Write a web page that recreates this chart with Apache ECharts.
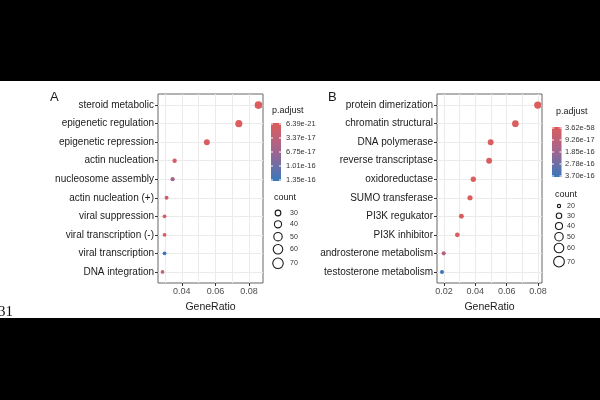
<!DOCTYPE html>
<html><head><meta charset="utf-8">
<script src="https://cdn.jsdelivr.net/npm/echarts@6/dist/echarts.min.js"></script>
<style>
html,body{margin:0;padding:0;background:#000;width:600px;height:400px;overflow:hidden}
#chart{position:absolute;left:0;top:81px;width:600px;height:237px;background:#fff}
</style></head><body><div id="chart"></div>
<script>
// ---------- Panel A data ----------
const catsA = ['steroid metabolic','epigenetic regulation','epigenetic repression','actin nucleation','nucleosome assembly','actin nucleation (+)','viral suppression','viral transcription (-)','viral transcription','DNA integration'];
const ratioA = [0.0856,0.0739,0.0549,0.0357,0.0345,0.0309,0.0297,0.0297,0.0297,0.0285];
const countA = [73,63,47,30,29,26,25,25,25,24];
const padjA  = [6.39e-21,2.1e-19,3.5e-18,1.2e-17,6.2e-17,1.8e-17,9.0e-18,1.0e-17,1.35e-16,2.2e-17];
const padjLabelsA = ['6.39e-21','3.37e-17','6.75e-17','1.01e-16','1.35e-16'];
const countBreaksA = [30,40,50,60,70];
const xTicksA = [0.04,0.06,0.08];
const xGridA  = [0.03,0.04,0.05,0.06,0.07,0.08];
const xRangeA = [0.0258,0.0883];

// ---------- Panel B data ----------
const catsB = ['protein dimerization','chromatin structural','DNA polymerase','reverse transcriptase','oxidoreductase','SUMO transferase','PI3K regukator','PI3K inhibitor','androsterone metabolism','testosterone metabolism'];
const ratioB = [0.0799,0.0656,0.0498,0.0488,0.0387,0.0366,0.0311,0.0285,0.0198,0.0187];
const countB = [72,59,45,44,35,33,28,26,18,17];
const padjB  = [3.62e-58,1e-40,1e-25,1e-24,1e-20,1e-19,5e-18,1e-17,1.2e-16,3.70e-16];
const padjLabelsB = ['3.62e-58','9.26e-17','1.85e-16','2.78e-16','3.70e-16'];
const countBreaksB = [20,30,40,50,60,70];
const xTicksB = [0.02,0.04,0.06,0.08];
const xGridB  = [0.02,0.03,0.04,0.05,0.06,0.07,0.08];
const xRangeB = [0.0155,0.0826];

const FONT = 'Liberation Sans, Arial, sans-serif';
const RED = '#DC5D5D', MID = '#9E6590', BLUE = '#3878BB';
const GRIDC = '#EBEBEB';

const idx = catsA.map((_, i) => i);

function sizeA(c){ return Math.sqrt(Math.max(4, -8.7 + 0.93*c)); }
function sizeB(c){ return Math.sqrt(Math.max(4, 4.5 + 0.678*c)); }
function legSizeA(c){ return Math.sqrt(2.2*c - 21); }
function legSizeB(c){ return Math.sqrt(2.37*c - 29); }

function xAxes(g, range, ticks, gridVals){
  return [
    {type:'value', gridIndex:g, min:range[0], max:range[1], position:'bottom',
     axisLine:{show:false, onZero:false},
     axisTick:{show:true, length:3, customValues:ticks, lineStyle:{color:'#333', width:1}},
     axisLabel:{customValues:ticks, formatter:v=>Number(v).toFixed(2), color:'#4d4d4d', fontSize:9, margin:4, fontFamily:FONT},
     splitLine:{show:false},
     name:'GeneRatio', nameLocation:'middle', nameGap:19,
     nameTextStyle:{fontSize:10.5, color:'#1a1a1a', fontFamily:FONT}},
    {type:'value', gridIndex:g, min:range[0], max:range[1], position:'bottom',
     axisLine:{show:false, onZero:false}, axisTick:{show:false, customValues:gridVals}, axisLabel:{show:false},
     splitLine:{show:true, lineStyle:{color:GRIDC, width:1}}}
  ];
}
function yAxis(g, cats){
  return {type:'value', gridIndex:g, inverse:true, min:-0.6, max:9.6,
    axisLine:{show:false, onZero:false},
    axisTick:{show:true, length:3, customValues:idx, lineStyle:{color:'#333', width:1}},
    axisLabel:{customValues:idx, formatter:v=>cats[Math.round(v)], color:'#1a1a1a', fontSize:10, margin:4, fontFamily:FONT},
    splitLine:{show:true, lineStyle:{color:GRIDC, width:1}}};
}

const graphics = [];
function txt(x, y, s, size, align, extra){
  graphics.push({type:'text', x, y, silent:true, style:Object.assign({text:s, fontSize:size, fontFamily:FONT, fill:'#1a1a1a', align:align||'left', verticalAlign:'middle'}, extra||{})});
}
txt(50, 16, 'A', 13);
txt(328, 16, 'B', 13);
// colour legends (bar drawn with the same stops used by the visualMap)
function colourLegend(titleX, titleY, barX, barY, barW, barH, labels, labelX){
  txt(titleX, titleY, 'p.adjust', 9);
  graphics.push({type:'rect', silent:true, shape:{x:barX, y:barY, width:barW, height:barH},
    style:{fill:{type:'linear', x:0, y:0, x2:0, y2:1, colorStops:[{offset:0,color:RED},{offset:0.5,color:MID},{offset:1,color:BLUE}]}}});
  labels.forEach((l, i) => {
    const y = barY + 1 + i*(barH-2)/(labels.length-1);
    txt(labelX, y, l, 7.5, 'left', {fill:'#333'});
    graphics.push({type:'line', silent:true, z:100, shape:{x1:barX, y1:y, x2:barX+2, y2:y}, style:{stroke:'#fff', lineWidth:1}});
    graphics.push({type:'line', silent:true, z:100, shape:{x1:barX+barW-2, y1:y, x2:barX+barW, y2:y}, style:{stroke:'#fff', lineWidth:1}});
  });
}
colourLegend(272, 30, 271, 42, 10, 58, padjLabelsA, 286);
colourLegend(556, 31, 552, 46, 9.5, 50, padjLabelsB, 565);
// size legends
function sizeLegend(titleX, titleY, cx, ys, breaks, fn, labelX){
  txt(titleX, titleY, 'count', 9);
  breaks.forEach((b, i) => {
    const d = fn(b);
    graphics.push({type:'circle', silent:true, shape:{cx, cy:ys[i], r:d/2-0.5}, style:{fill:'#fff', stroke:'#1a1a1a', lineWidth:1.1}});
    txt(labelX, ys[i], String(b), 7, 'left', {fill:'#333'});
  });
}
sizeLegend(274, 117, 278, [132,143.3,155.7,168.3,182.3], countBreaksA, legSizeA, 290);
sizeLegend(555, 114, 559, [125,134.7,145,155.7,167,180.7], countBreaksB, legSizeB, 567);
// cropped page number fragment
graphics.push({type:'text', x:-2, y:231, silent:true, style:{text:'31', fontSize:15, fontFamily:'Liberation Serif, serif', fill:'#111', verticalAlign:'middle'}});

const chart = echarts.init(document.getElementById('chart'), null, {renderer:'canvas'});
chart.setOption({
  animation:false,
  backgroundColor:'#fff',
  grid:[
    {left:158, top:13, width:105, height:189, show:true, borderColor:'#666', borderWidth:1, backgroundColor:'#fff', containLabel:false},
    {left:437, top:13, width:105, height:189, show:true, borderColor:'#666', borderWidth:1, backgroundColor:'#fff', containLabel:false}
  ],
  xAxis:[...xAxes(0, xRangeA, xTicksA, xGridA), ...xAxes(1, xRangeB, xTicksB, xGridB)],
  yAxis:[yAxis(0, catsA), yAxis(1, catsB)],
  visualMap:[
    {type:'continuous', show:false, seriesIndex:0, dimension:2, min:Math.min(...padjA), max:Math.max(...padjA),
     inRange:{color:[RED, MID, BLUE]}},
    {type:'continuous', show:false, seriesIndex:1, dimension:2, min:Math.min(...padjB), max:Math.max(...padjB),
     inRange:{color:[RED, MID, BLUE]}}
  ],
  series:[
    {type:'scatter', xAxisIndex:0, yAxisIndex:0, emphasis:{disabled:true},
     data:catsA.map((c,i)=>[ratioA[i], i, padjA[i], countA[i]]),
     symbolSize:v=>sizeA(v[3]), itemStyle:{opacity:1}, z:5},
    {type:'scatter', xAxisIndex:2, yAxisIndex:1, emphasis:{disabled:true},
     data:catsB.map((c,i)=>[ratioB[i], i, padjB[i], countB[i]]),
     symbolSize:v=>sizeB(v[3]), itemStyle:{opacity:1}, z:5}
  ],
  graphic:graphics
});
</script></body></html>
